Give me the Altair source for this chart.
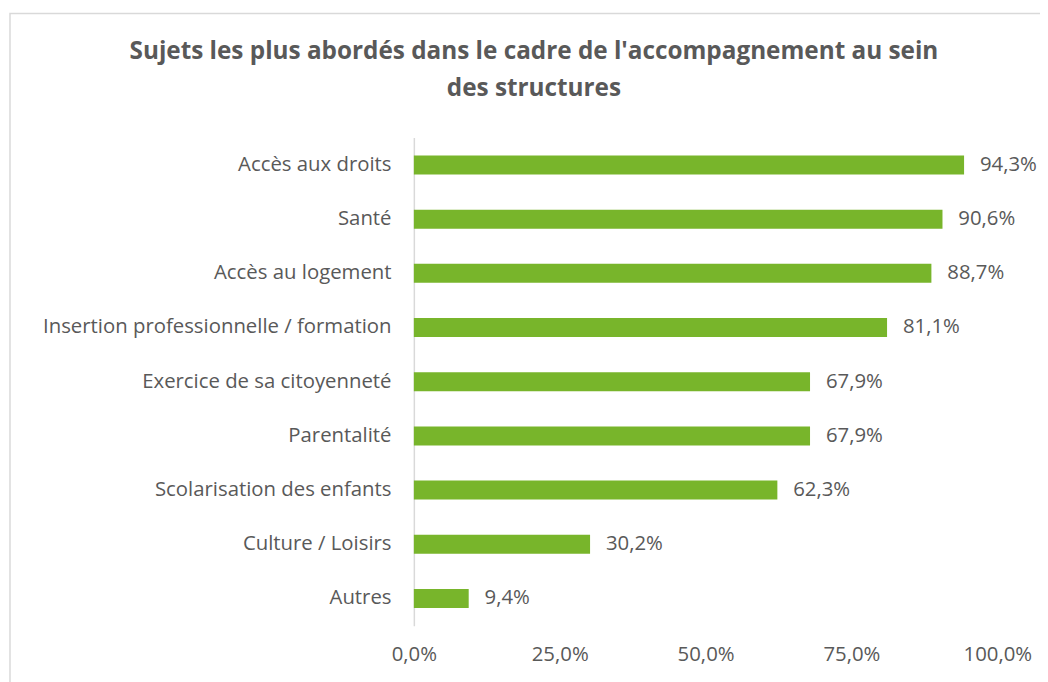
import altair as alt
import pandas as pd

categories = [
    "Accès aux droits",
    "Santé ",
    "Accès au logement",
    "Insertion professionnelle / formation ",
    "Exercice de sa citoyenneté",
    "Parentalité",
    "Scolarisation des enfants",
    "Culture / Loisirs",
    "Autres",
]
values = [0.943, 0.906, 0.887, 0.811, 0.679, 0.679, 0.623, 0.302, 0.094]
tick_values = [0, 0.25, 0.5, 0.75, 1.0]
title_lines = [
    "Sujets les plus abordés dans le cadre de l'accompagnement au sein",
    "des structures",
]

FONT = "Open Sans"
GREY = "#595959"
GREEN = "#78B52B"
FS = 20.5

df = pd.DataFrame({"cat": categories, "val": values})

base = alt.Chart(df).encode(
    y=alt.Y(
        "cat:N",
        sort=categories,
        title=None,
        scale=alt.Scale(paddingInner=0.65, paddingOuter=0.33),
        axis=alt.Axis(
            domain=True,
            domainColor="#d9d9d9",
            domainWidth=1.5,
            ticks=False,
            labelFont=FONT,
            labelFontSize=FS,
            labelColor=GREY,
            labelPadding=23,
            labelLimit=400,
        ),
    ),
)

bars = base.mark_bar(color=GREEN).encode(
    x=alt.X(
        "val:Q",
        title=None,
        scale=alt.Scale(domain=[0, 1], nice=False),
        axis=alt.Axis(
            values=tick_values,
            domain=False,
            ticks=False,
            grid=False,
            labelFlush=False,
            labelFont=FONT,
            labelFontSize=FS,
            labelColor=GREY,
            labelPadding=19,
            labelExpr="replace(format(datum.value, '.1%'), '.', ',')",
        ),
    )
)

labels = base.transform_calculate(
    lab="replace(format(datum.val, '.1%'), '.', ',')"
).mark_text(
    align="left", baseline="middle", dx=16, font=FONT, fontSize=FS, color=GREY
).encode(x="val:Q", text="lab:N")

frame = alt.Chart(pd.DataFrame({"a": [0]})).mark_rect(
    fill=None, stroke="#d9d9d9", strokeWidth=1.5
).encode(
    x=alt.value(-407), x2=alt.value(700), y=alt.value(-125), y2=alt.value(600)
)

chart = alt.layer(frame, bars, labels).properties(
    width=588,
    height=492,
    autosize=alt.AutoSizeParams(type="none"),
    padding={"left": 409, "top": 128, "right": 43, "bottom": 54},
    title=alt.TitleParams(
        text=title_lines,
        font=FONT,
        fontSize=24.5,
        fontWeight="bold",
        color=GREY,
        anchor="middle",
        frame="group",
        baseline="bottom",
        dx=-173,
        dy=113,
        offset=0,
        lineHeight=37,
    ),
).configure_view(stroke=None)

chart.save("out.html", embed_options={"renderer": "svg", "actions": False})
